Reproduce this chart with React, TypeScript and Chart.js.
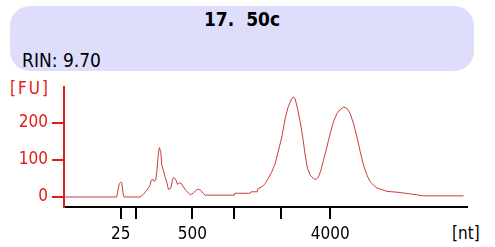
import React, { useEffect, useRef } from "react";
import { Chart, registerables } from "chart.js";

Chart.register(...registerables);

// Migration position (arbitrary units along the run) and fluorescence [FU]
const positions = [
  0, 52.7, 54, 55.3, 56.7, 57.7, 59.3, 60, 76, 79.3, 82.7, 86, 87, 89.3, 90.3, 91.7, 92.7, 94.3, 95.3,
  96.7, 97.7, 99.3, 101, 102.7, 104.3, 106, 107, 108.7, 110, 112, 113.3, 115.3, 117, 119.3, 121.7,
  124.3, 126.7, 129.3, 132, 134.3, 136.7, 139.3, 141, 170, 170.5, 186, 187, 193, 194, 197.7, 201, 204,
  207.7, 211, 214, 217.7, 221, 224, 227.7, 229.3, 231, 233.3, 236, 238.7, 241, 243.3, 246, 249.3, 252,
  254.3, 256.7, 259.3, 262.7, 266, 269.3, 272.7, 276, 279.3, 282.7, 286, 289.3, 292.7, 296, 299.3,
  302.7, 306, 309.3, 312.7, 317.7, 322.7, 332.7, 344.3, 359.3, 399.3,
];
const fluorescence = [
  0, 0, 20, 36, 40, 38, 5, 0, 0, 7, 18, 31, 45, 47, 42, 47, 68, 117, 133,
  122, 86, 72, 54, 40, 21, 22, 27, 50, 52, 45, 34, 38, 37, 27, 18,
  11, 6, 11, 18, 21, 18, 9, 5, 5, 10, 10, 14, 14, 23, 27, 36, 50,
  68, 90, 122, 162, 212, 243, 266, 270, 264, 239, 203, 158, 113, 77, 59, 50, 47,
  54, 72, 99, 135, 171, 203, 225, 236, 242, 239, 225, 198, 162, 122, 86,
  59, 41, 32, 24, 20, 15, 13, 9, 3, 3,
];

// Ladder tick positions and their nt labels
const xTickPositions = [56.7, 71.7, 128.3, 170.3, 216.7, 266];
const xTickLabels = ["25", "", "500", "", "", "4000"];
const yTickValues = [0, 100, 200];

const titleText = "17.  50c";
const rinText = "RIN: 9.70";
const yUnit = "[FU]";
const xUnit = "[nt]";

const RED = "#E31B1B";
const FONT = "'DejaVu Sans Condensed', 'DejaVu Sans', sans-serif";

export default function App() {
  const canvasRef = useRef<HTMLCanvasElement | null>(null);

  useEffect(() => {
    const canvas = canvasRef.current;
    if (!canvas) return;
    const chart = new Chart(canvas, {
      type: "line",
      data: {
        datasets: [
          {
            data: positions.map((x, i) => ({ x, y: fluorescence[i] })),
            borderColor: "#CC3B3B",
            borderWidth: 1,
            pointRadius: 0,
            tension: 0,
            fill: false,
          },
        ],
      },
      options: {
        animation: false,
        responsive: false,
        maintainAspectRatio: false,
        layout: { padding: { top: 87, right: 28, left: 0, bottom: 0 } },
        plugins: { legend: { display: false }, tooltip: { enabled: false }, title: { display: false } },
        scales: {
          x: {
            type: "linear",
            min: 0,
            max: 402.7,
            afterFit: (s: any) => {
              s.height = 40;
            },
            afterBuildTicks: (s: any) => {
              s.ticks = xTickPositions.map((v) => ({ value: v }));
            },
            ticks: {
              autoSkip: false,
              maxRotation: 0,
              padding: 5,
              color: "#000",
              font: { family: FONT, size: 17 },
              callback: (_v: any, i: number) => xTickLabels[i],
            },
            grid: { drawOnChartArea: false, drawTicks: true, tickLength: 12, color: "#000", lineWidth: 2 },
            border: { display: true, color: "#000", width: 2 },
          },
          y: {
            type: "linear",
            min: -27,
            max: 296.5,
            afterFit: (s: any) => {
              s.width = 64;
            },
            afterBuildTicks: (s: any) => {
              s.ticks = yTickValues.map((v) => ({ value: v }));
            },
            ticks: {
              autoSkip: false,
              padding: 4,
              color: RED,
              font: { family: FONT, size: 17 },
              callback: (v: any) => String(v),
            },
            grid: { drawOnChartArea: false, drawTicks: true, tickLength: 12, color: RED, lineWidth: 2 },
            border: { display: true, color: RED, width: 2 },
          },
        },
      },
    });
    return () => chart.destroy();
  }, []);

  return (
    <div
      style={{
        position: "fixed",
        left: 0,
        top: 0,
        width: 495,
        height: 247,
        background: "#fff",
        overflow: "hidden",
        fontFamily: FONT,
      }}
    >
      <div
        style={{
          position: "absolute",
          left: 10,
          top: 6,
          width: 464,
          height: 65,
          borderRadius: 20,
          background: "#DEDEFC",
        }}
      />
      <div
        style={{
          position: "absolute",
          left: 10,
          width: 464,
          top: 7,
          textAlign: "center",
          fontWeight: "bold",
          fontSize: 19,
          lineHeight: "24px",
          color: "#000",
          whiteSpace: "pre",
        }}
      >
        {titleText}
      </div>
      <div
        style={{
          position: "absolute",
          left: 22,
          top: 48,
          fontSize: 19,
          lineHeight: "24px",
          color: "#000",
          whiteSpace: "pre",
        }}
      >
        {rinText}
      </div>
      <div
        style={{
          position: "absolute",
          left: 10,
          top: 77,
          fontSize: 17,
          lineHeight: "22px",
          letterSpacing: 2,
          color: RED,
          whiteSpace: "pre",
        }}
      >
        {yUnit}
      </div>
      <div
        style={{
          position: "absolute",
          left: 452,
          top: 222,
          fontSize: 17,
          lineHeight: "22px",
          color: "#000",
          whiteSpace: "pre",
        }}
      >
        {xUnit}
      </div>
      <canvas
        ref={canvasRef}
        width={495}
        height={247}
        style={{ position: "absolute", left: 0, top: 0, width: 495, height: 247 }}
      />
    </div>
  );
}
